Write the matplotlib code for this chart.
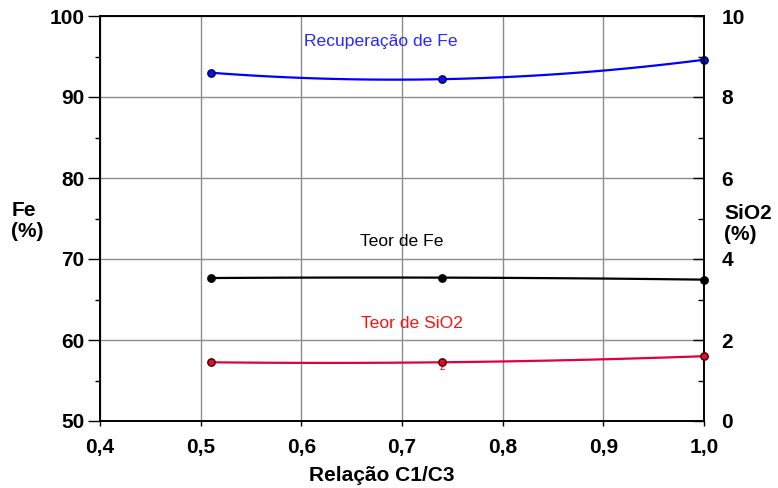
"""Fe recovery and grades vs C1/C3 ratio."""

import numpy as np
import matplotlib
matplotlib.use('Agg')
import matplotlib.pyplot as plt
from matplotlib.ticker import MultipleLocator, FuncFormatter

plt.rcParams['font.family'] = ['Liberation Sans', 'DejaVu Sans']

relacao = [0.51, 0.74, 1.0]
recuperacao_fe = [93.0, 92.2, 94.6]
teor_fe = [67.65, 67.7, 67.45]
teor_sio2 = [1.45, 1.45, 1.6]

x_ticks = [0.4, 0.5, 0.6, 0.7, 0.8, 0.9, 1.0]


def smooth(xs, ys):
    # quadratic through the measured points, only for drawing the curve
    coef = np.polyfit(xs, ys, 2)
    xx = np.linspace(min(xs), max(xs), 100)
    return xx, np.polyval(coef, xx)


W, H = 778, 488
fig = plt.figure(figsize=(W / 100, H / 100), dpi=100)
ax = fig.add_axes([100 / W, 67 / H, 604 / W, 405 / H])
ax2 = ax.twinx()

ax.set_xlim(0.4, 1.0)
ax.set_ylim(50, 100)
ax2.set_ylim(0, 10)

ax.set_xticks(x_ticks)
ax.xaxis.set_major_formatter(FuncFormatter(lambda v, p: f'{v:.1f}'.replace('.', ',')))
ax.yaxis.set_major_locator(MultipleLocator(10))
ax.yaxis.set_minor_locator(MultipleLocator(5))
ax2.yaxis.set_major_locator(MultipleLocator(2))
ax2.yaxis.set_minor_locator(MultipleLocator(1))

ax.grid(True, which='major', color='#8c8c8c', linewidth=1)
ax.set_axisbelow(True)

for a in (ax, ax2):
    for s in a.spines.values():
        s.set_color('black')
        s.set_linewidth(1.2)

ax.tick_params(axis='y', which='major', direction='out', length=8.6, width=1,
               labelsize=15, pad=2.5)
ax.tick_params(axis='y', which='minor', direction='out', length=3.6, width=1)
ax.tick_params(axis='x', which='major', direction='out', length=3.6, width=1,
               labelsize=15, pad=8.4)
ax2.tick_params(axis='y', which='major', direction='in', length=8, width=1,
                labelsize=15, pad=12.6)
ax2.tick_params(axis='y', which='minor', direction='in', length=4.3, width=1)
for lab in ax.get_xticklabels() + ax.get_yticklabels() + ax2.get_yticklabels():
    lab.set_fontweight('bold')

# Recuperação de Fe
xx, yy = smooth(relacao, recuperacao_fe)
ax.plot(xx, yy, color='#0000ff', linewidth=1.6, zorder=3)
ax.plot(relacao, recuperacao_fe, 'o', color='#0a14e6', markeredgecolor='#000050',
        markersize=5.3, clip_on=False, zorder=4)

# Teor de Fe
xx, yy = smooth(relacao, teor_fe)
ax.plot(xx, yy, color='black', linewidth=1.6, zorder=3)
ax.plot(relacao, teor_fe, 'o', color='black', markersize=5.3, clip_on=False, zorder=4)

# Teor de SiO2 (eixo direito)
xx, yy = smooth(relacao, teor_sio2)
ax2.plot(xx, yy, color='#e0003c', linewidth=1.6, zorder=3)
ax2.plot(relacao, teor_sio2, 'o', color='#dc1030', markeredgecolor='#400000',
         markersize=5.3, clip_on=False, zorder=4)

ax.text(0.679, 96.8, 'Recuperação de Fe', color='#2828ff', fontsize=12.6,
        ha='center', va='center')
ax.text(0.70, 72.1, 'Teor de Fe', color='black', fontsize=12.6,
        ha='center', va='center')
ax.text(0.71, 62.0, 'Teor de SiO2', color='#ff1010', fontsize=12.6,
        ha='center', va='center')
ax2.text(0.74, 1.33, '2', color='#e00000', fontsize=7, ha='center', va='center',
         zorder=5)

bold = dict(fontsize=15, fontweight='bold')
fig.text(382 / W, 1 - 481 / H, 'Relação C1/C3', ha='center', va='baseline', **bold)
fig.text(12 / W, 1 - 216 / H, 'Fe', ha='left', va='baseline', **bold)
fig.text(11 / W, 1 - 237 / H, '(%)', ha='left', va='baseline', **bold)
fig.text(724 / W, 1 - 219 / H, 'SiO2', ha='left', va='baseline', **bold)
fig.text(724 / W, 1 - 240 / H, '(%)', ha='left', va='baseline', **bold)

fig.savefig('out.png', dpi=100)
